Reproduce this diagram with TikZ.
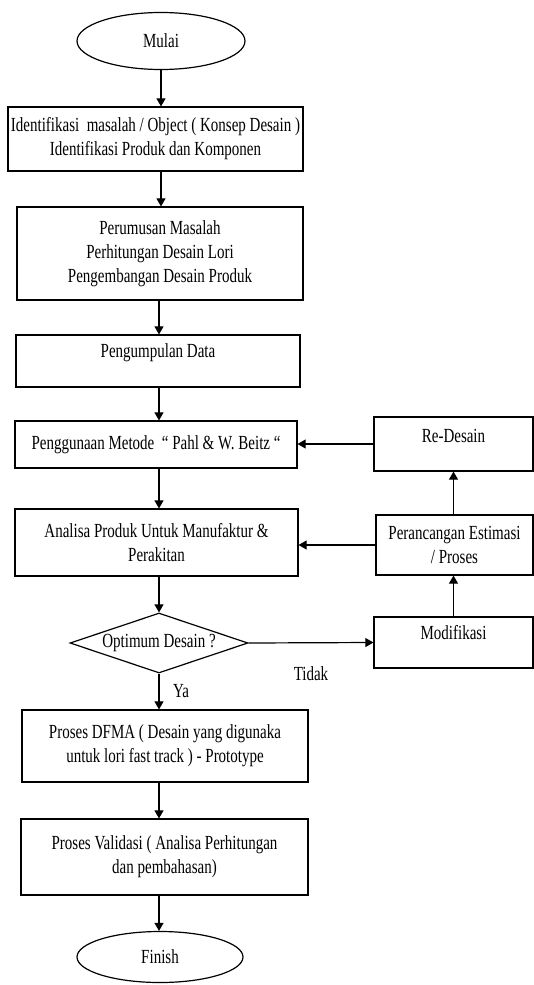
\documentclass[tikz,border=0pt]{standalone}
\usepackage{fontspec}
\setmainfont{Liberation Serif}[FakeStretch=0.75]
\usepackage{tikz}
\usetikzlibrary{arrows}
\usetikzlibrary{shapes.geometric}

\tikzset{
  stepbox/.style={draw, line width=1.2pt, rectangle, align=center, inner sep=2pt},
  endbox/.style={draw, line width=1.2pt, ellipse, inner sep=0pt},
  askbox/.style={draw, line width=1.2pt, diamond, aspect=3, inner sep=0pt},
  flow/.style={-triangle 60, line width=1.2pt}
}

\begin{document}
\begin{tikzpicture}[x=1pt,y=-1pt,font=\fontsize{20}{24}\selectfont]
          \useasboundingbox (0,0) rectangle (534,985);
          % Mulai
          \node[endbox, minimum width=168, minimum height=57] (mulai) at (161,41) {Mulai};
          % Identifikasi
          \node[stepbox, minimum width=295, minimum height=64] (ident) at (155.5,139)
            {Identifikasi\ \ masalah / Object ( Konsep Desain )\\Identifikasi Produk dan Komponen};
          % Perumusan
          \node[stepbox, minimum width=286, minimum height=93] (rumus) at (160,253.5)
            {Perumusan Masalah\\Perhitungan Desain Lori\\Pengembangan Desain Produk};
          % Pengumpulan Data
          \node[stepbox, minimum width=284, minimum height=52, text depth=20pt] (kumpul) at (158,361) {Pengumpulan Data};
          % Metode
          \node[stepbox, minimum width=282, minimum height=47] (metode) at (156,444.5)
            {Penggunaan Metode\ \ `` Pahl \& W. Beitz ``};
          % Analisa
          \node[stepbox, minimum width=283, minimum height=67] (analisa) at (156.5,542.5)
            {Analisa Produk Untuk Manufaktur \&\\Perakitan};
          % Optimum
          \node[askbox, minimum width=178, minimum height=60] (optimum) at (159,643) {Optimum Desain ?};
          % DFMA
          \node[stepbox, minimum width=286, minimum height=72] (dfma) at (165,746)
            {Proses DFMA ( Desain yang digunaka\\untuk lori fast track ) - Prototype};
          % Validasi
          \node[stepbox, minimum width=287, minimum height=76] (valid) at (164.5,857)
            {Proses Validasi ( Analisa Perhitungan\\dan pembahasan)};
          % Finish
          \node[endbox, minimum width=166, minimum height=51] (finish) at (160,957) {Finish};
          % Re-Desain
          \node[stepbox, minimum width=159, minimum height=54, text depth=16pt] (redesain) at (453.5,444) {Re-Desain};
          % Perancangan
          \node[stepbox, minimum width=157, minimum height=60] (rancang) at (454.5,545)
            {Perancangan Estimasi\\/ Proses};
          % Modifikasi
          \node[stepbox, minimum width=159, minimum height=51, text depth=21pt] (modif) at (453.5,642.5) {Modifikasi};
          % main line
          \draw[flow] (mulai.south) -- (mulai.south |- ident.north);
          \draw[flow] (ident.south -| mulai.south) -- (mulai.south |- rumus.north);
          \draw[flow] (rumus.south -| optimum.north) -- (kumpul.north -| optimum.north);
          \draw[flow] (kumpul.south -| optimum.north) -- (metode.north -| optimum.north);
          \draw[flow] (metode.south -| optimum.north) -- (analisa.north -| optimum.north);
          \draw[flow] (analisa.south -| optimum.north) -- (optimum.north);
          \draw[flow] (optimum.south) -- (optimum.south |- dfma.north) node[midway,xshift=22pt] {Ya};
          \draw[flow] (dfma.south -| optimum.south) -- (optimum.south |- valid.north);
          \draw[flow] (valid.south -| optimum.south) -- (optimum.south |- finish.north);
          % loop back
          \draw[flow] (optimum.east) -- (modif.west) node[midway,yshift=-31pt] {Tidak};
          \draw[flow] (modif.north) -- (rancang.south -| modif.north);
          \draw[flow] (rancang.north -| modif.north) -- (redesain.south);
          \draw[flow] (redesain.west) -- (redesain.west -| metode.east);
          \draw[flow] (rancang.west) -- (rancang.west -| analisa.east);
        \end{tikzpicture}
\end{document}
